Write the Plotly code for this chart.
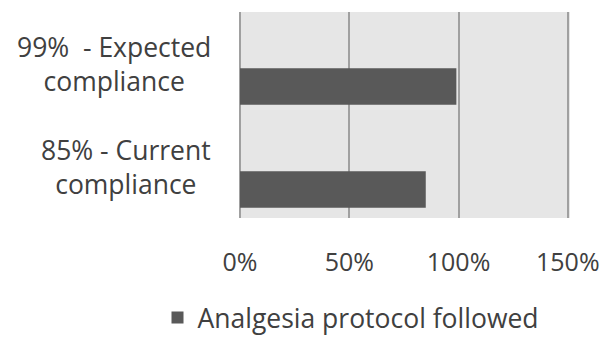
import plotly.graph_objects as go

categories = ["85% - Current<br>compliance", "99%  - Expected<br>compliance"]
values = [0.85, 0.99]
series_name = "Analgesia protocol followed"
x_ticks = [0, 0.5, 1.0, 1.5]

FONT = "Open Sans"
TXT = "#404040"

fig = go.Figure()
fig.add_trace(go.Bar(
    y=list(range(len(categories))),
    x=values,
    orientation="h",
    name=series_name,
    marker=dict(color="#595959", line=dict(width=0)),
    width=0.355,
    offset=-0.40,
    showlegend=True,
))

for i, c in enumerate(categories):
    fig.add_annotation(
        x=0, xref="paper", y=i, yref="y",
        text=c, showarrow=False, xanchor="right", yanchor="middle",
        align="center", xshift=-27,
        font=dict(family=FONT, size=26.5, color=TXT),
    )

fig.update_layout(
    width=611, height=337,
    margin=dict(l=240, r=41, t=12, b=119, autoexpand=False),
    paper_bgcolor="white",
    plot_bgcolor="#e6e6e6",
    showlegend=True,
    legend=dict(
        orientation="h", x=-0.25, xanchor="left", y=-0.484, yanchor="middle",
        font=dict(family=FONT, size=26.5, color=TXT),
        bgcolor="rgba(0,0,0,0)",
    ),
    xaxis=dict(
        range=[0, 1.51], tickvals=x_ticks, tickformat=".0%",
        showgrid=True, gridcolor="#a0a0a0", gridwidth=2,
        zeroline=True, zerolinecolor="#a0a0a0", zerolinewidth=2,
        showline=False, ticks="", ticklabelstandoff=27,
        tickfont=dict(family=FONT, size=25, color=TXT),
        fixedrange=True,
    ),
    yaxis=dict(
        range=[-0.5, 1.5], showticklabels=False, showgrid=False,
        zeroline=False, showline=False, ticks="",
        fixedrange=True,
    ),
)

fig.write_html("out.html", config={"displayModeBar": False},
               post_script="document.body.style.margin='0';")
